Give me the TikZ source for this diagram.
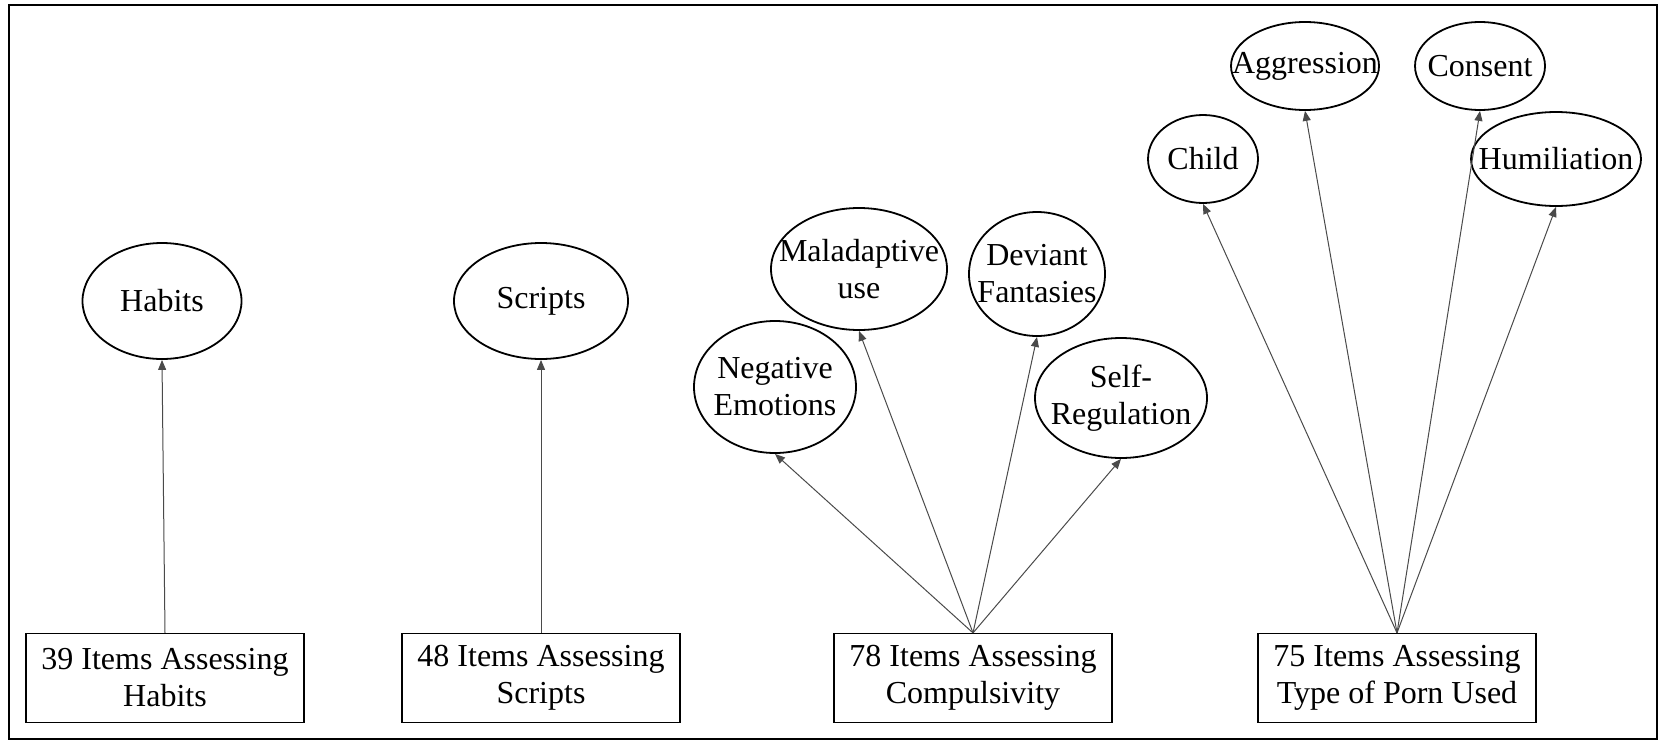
\documentclass[tikz,border=0pt]{standalone}
\usepackage{fontspec}
\setmainfont{Liberation Serif}
\usepackage{tikz}
\usetikzlibrary{arrows.meta,shapes.geometric}
\definecolor{linegray}{HTML}{4A4A4A}
\newcommand{\itemfont}{\fontsize{16}{18.5}\selectfont}

\begin{document}
\begin{tikzpicture}[x=0.5pt,y=-0.5pt,>={Triangle[length=5pt,width=4pt]}]
  \path[use as bounding box] (0,0) rectangle (1663,744);
  \tikzset{
    latent/.style={ellipse,draw,line width=0.9pt,inner sep=-40pt,align=center,font=\itemfont},
    items/.style={draw,line width=0.6pt,inner sep=0pt,align=center,font=\itemfont,minimum width=139pt,minimum height=44.5pt},
    link/.style={->,line width=0.5pt,linegray}
  }
  \draw[line width=0.9pt] (9,5) rectangle (1657,739);

  \node[items] (habitsitems) at (165,678) {39 Items Assessing\\Habits};
  \node[items] (scriptsitems) at (541,678) {48 Items Assessing\\Scripts};
  \node[items] (compitems) at (973,678) {78 Items Assessing\\Compulsivity};
  \node[items] (typeitems) at (1397,678) {75 Items Assessing\\Type of Porn Used};

  \node[latent,minimum width=79.5pt,minimum height=58pt] (habits) at (162,301) {Habits};
  \node[latent,minimum width=87pt,minimum height=58pt] (scripts) at (541,301) {Scripts};

  \node[latent,minimum width=81pt,minimum height=66pt] (negemo) at (775,387) {Negative\\Emotions};
  \node[latent,minimum width=88pt,minimum height=61pt] (maladapt) at (859,269) {Maladaptive\\use};
  \node[latent,minimum width=68pt,minimum height=62pt] (deviant) at (1037,274) {Deviant\\Fantasies};
  \node[latent,minimum width=86pt,minimum height=60pt] (selfreg) at (1121,398) {Self-\\Regulation};

  \node[latent,minimum width=55pt,minimum height=44pt] (child) at (1203,159) {Child};
  \node[latent,minimum width=74pt,minimum height=44pt] (aggression) at (1305,66) {Aggression};
  \node[latent,minimum width=65pt,minimum height=44pt] (consent) at (1480,66) {Consent};
  \node[latent,minimum width=85pt,minimum height=47pt] (humiliation) at (1556,159) {Humiliation};

  \draw[link] (habitsitems.north) -- (habits.south);
  \draw[link] (scriptsitems.north) -- (scripts.south);
  \draw[link] (compitems.north) -- (negemo.south);
  \draw[link] (compitems.north) -- (maladapt.south);
  \draw[link] (compitems.north) -- (deviant.south);
  \draw[link] (compitems.north) -- (selfreg.south);
  \draw[link] (typeitems.north) -- (child.south);
  \draw[link] (typeitems.north) -- (aggression.south);
  \draw[link] (typeitems.north) -- (consent.south);
  \draw[link] (typeitems.north) -- (humiliation.south);
\end{tikzpicture}
\end{document}
